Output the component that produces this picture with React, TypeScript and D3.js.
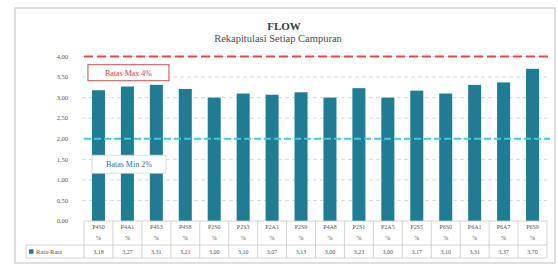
import React from 'react';
import * as d3 from 'd3';

const categories = ['P4S0', 'P4A1', 'P4S3', 'P4S8', 'P2S0', 'P2S3', 'P2A1', 'P2S9', 'P4A8', 'P2S1', 'P2A5', 'P2S5', 'P6S0', 'P6A1', 'P6A7', 'P6S9'];
const rataRata = [3.18, 3.27, 3.31, 3.21, 3.0, 3.1, 3.07, 3.13, 3.0, 3.23, 3.0, 3.17, 3.1, 3.31, 3.37, 3.7];
const yTicks = [0, 0.5, 1, 1.5, 2, 2.5, 3, 3.5, 4];
const batasMax = 4;
const batasMin = 2;

const W = 558;
const H = 268;
const serif = '"Liberation Serif", "DejaVu Serif", serif';

const idLocale = d3.formatLocale({ decimal: ',', thousands: '.', grouping: [3], currency: ['Rp', ''] });
const fmt = idLocale.format('.2f');

const App = () => {
  // plot area
  const left = 84;
  const right = 547;
  const top = 56.5;
  const bottom = 221;

  const x = d3.scaleBand().domain(categories).range([left, right]).paddingInner(0.55).paddingOuter(0.275);
  const y = d3.scaleLinear().domain([0, 4]).range([bottom, top]);
  const step = x.step();
  const cellLeft = (c) => x(c) - (step - x.bandwidth()) / 2;

  const headerBottom = 245;
  const tableBottom = 258;
  const legendLeft = 26;

  return (
    <svg width={W} height={H} style={{ position: 'absolute', left: 0, top: 0 }} fontFamily={serif}>
      <rect x={0} y={0} width={W} height={H} fill="#fff" />
      <rect x={15} y={8} width={540} height={255} fill="#fff" stroke="#d2d2d2" strokeWidth={1.4} />

      <text x={284} y={30} textAnchor="middle" fontSize={11} fontWeight="bold" fill="#3a3a3a">FLOW</text>
      <text x={278} y={42} textAnchor="middle" fontSize={10.5} fill="#4a4a4a">Rekapitulasi Setiap Campuran</text>

      {/* grid + y labels */}
      {yTicks.map((t) => (
        <g key={t}>
          {t > 0 && (
            <line x1={left - 2} x2={right} y1={y(t)} y2={y(t)} stroke="#d4cfd8" strokeWidth={0.9} strokeDasharray="4,3" />
          )}
          <text x={68} y={y(t)} dy="0.35em" textAnchor="end" fontSize={6.5} fill="#555">{fmt(t)}</text>
        </g>
      ))}

      {/* bars */}
      {categories.map((c, i) => (
        <rect key={c} x={x(c)} y={y(rataRata[i])} width={x.bandwidth()} height={y(0) - y(rataRata[i])} fill="#1f7c93" />
      ))}

      {/* limits */}
      <line x1={left} x2={right + 3} y1={y(batasMax)} y2={y(batasMax)} stroke="#e04a4a" strokeWidth={2.2} strokeDasharray="9,4" />
      <line x1={left} x2={right + 3} y1={y(batasMin)} y2={y(batasMin)} stroke="#3fcbd9" strokeWidth={2.2} strokeDasharray="7,3" />

      <g>
        <rect x={x(categories[0]) - 4} y={y(3.8)} width={81} height={16} fill="#fff" stroke="#c0504d" strokeWidth={1} />
        <text x={x(categories[0]) - 4 + 40.5} y={y(3.8) + 8} dy="0.35em" textAnchor="middle" fontSize={8} fill="#d23c3c">Batas Max 4%</text>
      </g>
      <g>
        <rect x={x(categories[0])} y={y(1.6)} width={74} height={18} fill="#fff" stroke="#d0d8e0" strokeWidth={0.8} />
        <text x={x(categories[0]) + 37} y={y(1.6) + 9} dy="0.35em" textAnchor="middle" fontSize={8} fill="#2f6fb0">Batas Min 2%</text>
      </g>

      {/* data table */}
      <line x1={left} x2={right} y1={bottom} y2={bottom} stroke="#c8c8c8" strokeWidth={0.8} />
      <line x1={legendLeft} x2={right} y1={headerBottom} y2={headerBottom} stroke="#c8c8c8" strokeWidth={0.8} />
      <line x1={legendLeft} x2={right} y1={tableBottom} y2={tableBottom} stroke="#c8c8c8" strokeWidth={0.8} />
      <line x1={legendLeft} x2={legendLeft} y1={headerBottom} y2={tableBottom} stroke="#c8c8c8" strokeWidth={0.8} />
      {categories.map((c) => (
        <line key={c} x1={cellLeft(c)} x2={cellLeft(c)} y1={bottom} y2={tableBottom} stroke="#c8c8c8" strokeWidth={0.8} />
      ))}
      <line x1={right} x2={right} y1={bottom} y2={tableBottom} stroke="#c8c8c8" strokeWidth={0.8} />

      {categories.map((c, i) => {
        const cx = x(c) + x.bandwidth() / 2;
        return (
          <g key={c} fontSize={6} fill="#555" textAnchor="middle">
            <text x={cx} y={229}>{c}</text>
            <text x={cx} y={240}>%</text>
            <text x={cx} y={254}>{fmt(rataRata[i])}</text>
          </g>
        );
      })}
      <rect x={legendLeft + 3} y={249.3} width={4.5} height={4.5} fill="#1f7c93" />
      <text x={legendLeft + 10} y={254} fontSize={6.5} fill="#555">Rata-Rata</text>
    </svg>
  );
};

export default App;
